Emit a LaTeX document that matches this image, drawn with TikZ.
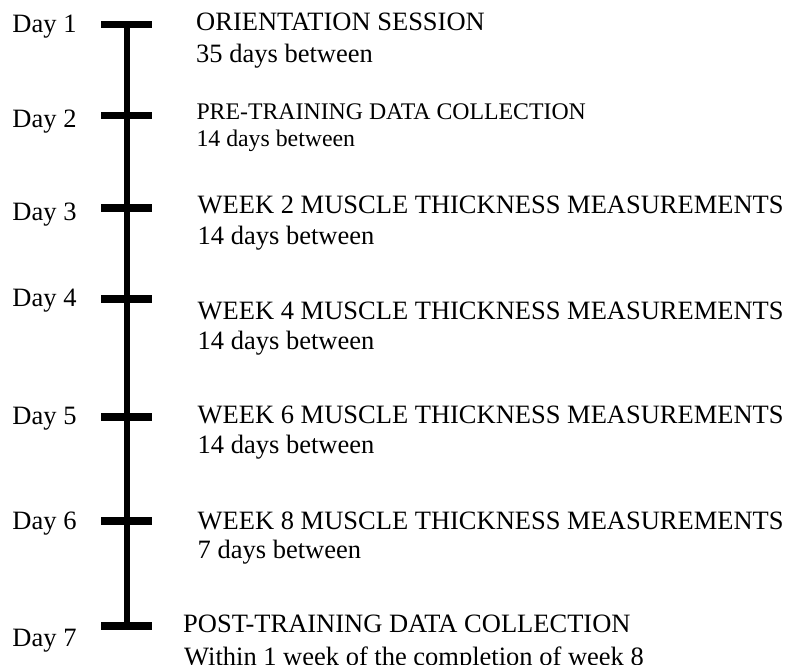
\documentclass[tikz,border=0pt]{standalone}
\usepackage{fontspec}
\setmainfont{Liberation Serif}
\begin{document}
\begin{tikzpicture}[x=1pt,y=-1pt,
  entry/.style={anchor=base west, inner sep=0pt, font=\fontsize{26.5}{31}\selectfont},
  smallentry/.style={anchor=base west, inner sep=0pt, font=\fontsize{23.8}{27}\selectfont},
  daylabel/.style={anchor=base west, inner sep=0pt, font=\fontsize{26.5}{31}\selectfont},
  spine/.style={line width=6.5pt, black},
  tickmark/.style={line width=7.7pt, black}]
\useasboundingbox (0,0) rectangle (789,664);

% timeline points
\coordinate (t1) at (127,24.5);
\coordinate (t2) at (127,115.5);
\coordinate (t3) at (127,208);
\coordinate (t4) at (127,299);
\coordinate (t5) at (127,416.7);
\coordinate (t6) at (127,521.3);
\coordinate (t7) at (127,625.8);

% vertical spine and tick marks
\draw[spine] (t1) -- (t7);
\foreach \i in {1,...,7}
  \draw[tickmark] ([xshift=-26pt]t\i) -- ([xshift=25pt]t\i);

% day labels
\node[daylabel] (d1) at (12.3,32.7)  {Day 1};
\node[daylabel] (d2) at (12.3,127.7) {Day 2};
\node[daylabel] (d3) at (12.3,220)   {Day 3};
\node[daylabel] (d4) at (12.3,306.7) {Day 4};
\node[daylabel] (d5) at (12.3,424.3) {Day 5};
\node[daylabel] (d6) at (12.3,529.3) {Day 6};
\node[daylabel] (d7) at (12.3,646.7) {Day 7};

% events and intervals
\node[entry] (e1) at (196,30.7) {ORIENTATION SESSION};
\node[entry] (g1) at (196,62)   {35 days between};

\node[smallentry] (e2) at (196.3,119) {PRE-TRAINING DATA COLLECTION};
\node[smallentry] (g2) at (196.3,146) {14 days between};

\node[entry] (e3) at (197.5,213.3) {WEEK 2 MUSCLE THICKNESS MEASUREMENTS};
\node[entry] (g3) at (197.5,244)   {14 days between};

\node[entry] (e4) at (197.5,319.3) {WEEK 4 MUSCLE THICKNESS MEASUREMENTS};
\node[entry] (g4) at (197.5,349.3) {14 days between};

\node[entry] (e5) at (197.5,423.3) {WEEK 6 MUSCLE THICKNESS MEASUREMENTS};
\node[entry] (g5) at (197.5,453.3) {14 days between};

\node[entry] (e6) at (197.5,529.3) {WEEK 8 MUSCLE THICKNESS MEASUREMENTS};
\node[entry] (g6) at (197.5,558.3) {7 days between};

\node[entry] (e7) at (183,632.3) {POST-TRAINING DATA COLLECTION};
\node[entry] (g7) at (184,665)   {Within 1 week of the completion of week 8};
\end{tikzpicture}
\end{document}
